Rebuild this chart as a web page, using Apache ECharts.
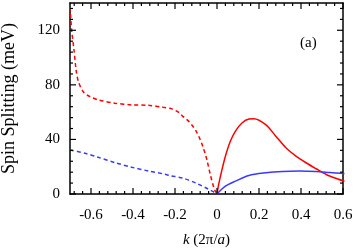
<!DOCTYPE html>
<html>
<head>
<meta charset="utf-8">
<script src="https://cdn.jsdelivr.net/npm/echarts@6/dist/echarts.min.js"></script>
<style>
html,body{margin:0;padding:0;background:#fff;}
#c{width:354px;height:249px;}
</style>
</head>
<body>
<div id="c"></div>
<script>
// Data
var kRedDash = [-0.700,-0.692,-0.681,-0.671,-0.660,-0.637,-0.605,-0.565,-0.486,-0.406,-0.327,-0.256,-0.215,-0.184,-0.161,-0.137,-0.116,-0.100,-0.086,-0.073,-0.065,-0.057,-0.048,-0.033,-0.014,-0.004];
var vRedDash = [137,120,105.7,91,82.4,75,71.4,69,66.6,65.3,65,63.6,62.4,60,56.7,53.6,49.9,46.2,42,37.2,33.5,29.9,25,15,4,1];
var kBlueDash = [-0.700,-0.629,-0.566,-0.486,-0.406,-0.327,-0.248,-0.224,-0.160,-0.097,-0.049,-0.018,0];
var vBlueDash = [32.3,29.9,26.9,23,19.6,16.9,14.5,13.5,11.5,7.8,4.2,1.7,0];
var kRedSolid = [0,0.008,0.024,0.040,0.064,0.088,0.120,0.152,0.175,0.232,0.280,0.328,0.376,0.424,0.472,0.520,0.568,0.607];
var vRedSolid = [0,7,18,27.7,38.8,46.1,52.2,55,55.2,50.9,42.4,33.9,27.8,22.9,18.5,14.3,11.4,9.4];
var kBlueSolid = [0,0.040,0.088,0.152,0.232,0.312,0.392,0.472,0.536,0.607];
var vBlueSolid = [0,5.7,9.4,13.6,15.5,16.5,16.8,16.5,15.8,15];
var xTickLabels = [-0.6,-0.4,-0.2,0,0.2,0.4,0.6];
var yTickLabels = [0,40,80,120];
var panelLabel = '(a)';
var yName = 'Spin Splitting (meV)';

function zip(a,b){ return a.map(function(v,i){ return [v,b[i]]; }); }
function range(a,b,s){ var r=[]; for(var v=a; v<=b+1e-9; v+=s){ r.push(Math.round(v*1000)/1000); } return r; }

var XMIN=-0.7, XMAX=0.6, YMIN=0, YMAX=140;
var xMinor = range(-0.68,0.6,0.04);
var yMinor = range(8,136,8);
var FONT = 'Liberation Serif';
var lineC = '#000';

function baseAxis(extra){
  var a = {
    type:'value', gridIndex:0,
    axisLine:{show:true, onZero:false, lineStyle:{color:lineC,width:1.5}},
    axisTick:{show:false},
    splitLine:{show:false}
  };
  for (var k in extra) a[k]=extra[k];
  return a;
}

var xAxes = [
  baseAxis({min:XMIN, max:XMAX, position:'bottom',
    axisLabel:{show:true, customValues:xTickLabels, margin:14, color:'#000', fontFamily:FONT, fontSize:15,
      formatter:function(v){ return v===0 ? '0' : v.toFixed(1); }},
    name:'{i|k} (2π/{i|a})', nameLocation:'middle', nameGap:39,
    nameTextStyle:{color:'#000', fontFamily:FONT, fontSize:15, rich:{i:{fontStyle:'italic', fontFamily:FONT, fontSize:15, color:'#000'}}}
  }),
  baseAxis({min:XMIN, max:XMAX, position:'top', axisLabel:{show:false}})
];
var yAxes = [
  baseAxis({min:YMIN, max:YMAX, position:'left',
    axisLabel:{show:true, customValues:yTickLabels, margin:10, color:'#000', fontFamily:FONT, fontSize:15},
    name:yName, nameLocation:'middle', nameGap:52,
    nameTextStyle:{color:'#000', fontFamily:FONT, fontSize:18}
  }),
  baseAxis({min:YMIN, max:YMAX, position:'right', axisLabel:{show:false}})
];

// tick marks drawn through the axes' own scale (api.coord)
var tickData = [];
xTickLabels.forEach(function(v){ tickData.push([v, 0, 6]); });
xMinor.forEach(function(v){ if (xTickLabels.indexOf(v) < 0) tickData.push([v, 0, 3]); });
yTickLabels.forEach(function(v){ tickData.push([v, 1, 6]); });
yMinor.forEach(function(v){ if (yTickLabels.indexOf(v) < 0) tickData.push([v, 1, 3]); });

function renderTick(params, api){
  var v = api.value(0), dir = api.value(1), len = api.value(2);
  var st = {stroke:'#000', lineWidth:1.2, fill:null};
  var ch;
  if (dir === 0) {
    var b = api.coord([v, YMIN]), t = api.coord([v, YMAX]);
    ch = [
      {type:'line', shape:{x1:b[0], y1:b[1], x2:b[0], y2:b[1]-len}, style:st},
      {type:'line', shape:{x1:t[0], y1:t[1], x2:t[0], y2:t[1]+len}, style:st}
    ];
  } else {
    var l = api.coord([XMIN, v]), r = api.coord([XMAX, v]);
    ch = [
      {type:'line', shape:{x1:l[0], y1:l[1], x2:l[0]+len, y2:l[1]}, style:st},
      {type:'line', shape:{x1:r[0], y1:r[1], x2:r[0]-len, y2:r[1]}, style:st}
    ];
  }
  return {type:'group', children:ch};
}

var RED = '#ff0000', BLUE = '#3a3aff';
function ser(k, v, color, dashed){
  return {
    type:'line', xAxisIndex:0, yAxisIndex:0, data:zip(k,v), showSymbol:false, symbol:'none',
    smooth:0.3, clip:true,
    lineStyle:{color:color, width:1.5, type: dashed ? [4,3] : 'solid'},
    animation:false
  };
}

var chart = echarts.init(document.getElementById('c'), null, {renderer:'canvas'});
chart.setOption({
  animation:false,
  backgroundColor:'#fff',
  grid:{left:70, right:11, top:3, bottom:55, containLabel:false, outerBoundsMode:'none'},
  xAxis: xAxes,
  yAxis: yAxes,
  series:[
    ser(kRedDash, vRedDash, RED, true),
    ser(kBlueDash, vBlueDash, BLUE, true),
    ser(kRedSolid, vRedSolid, RED, false),
    ser(kBlueSolid, vBlueSolid, BLUE, false),
    {type:'custom', xAxisIndex:0, yAxisIndex:0, coordinateSystem:'cartesian2d', data:tickData, renderItem:renderTick,
     clip:false, silent:true, z:5, animation:false}
  ],
  graphic:[{type:'text', left:300, top:36, style:{text:panelLabel, font:'15px "Liberation Serif"', fill:'#000'}}]
});
</script>
</body>
</html>
